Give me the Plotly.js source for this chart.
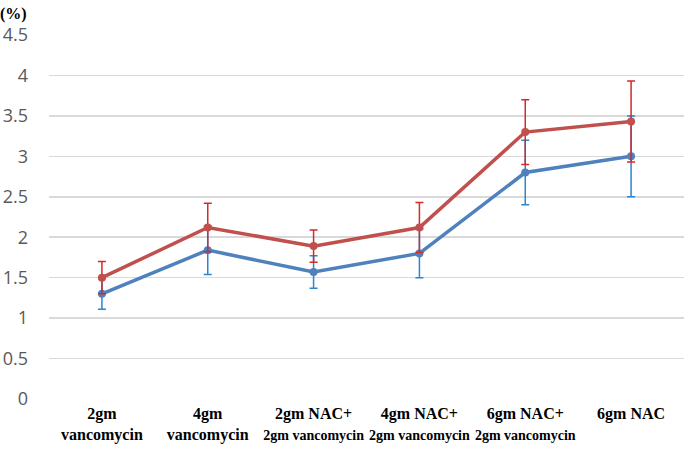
<!DOCTYPE html>
<html>
<head>
<meta charset="utf-8">
<script src="https://cdn.plot.ly/plotly-3.0.1.min.js"></script>
<style>
  html, body { margin: 0; padding: 0; background: #fff; }
  #chart { width: 685px; height: 451px; }
</style>
</head>
<body>
<div id="chart"></div>
<script>
// groups on the x axis
var groups = ["g1", "g2", "g3", "g4", "g5", "g6"];
var groupLabels = [
  "<b>2gm</b><br><b>vancomycin</b>",
  "<b>4gm</b><br><b>vancomycin</b>",
  "<b>2gm NAC+</b><br><b><span style='font-size:14px'>2gm vancomycin</span></b>",
  "<b>4gm NAC+</b><br><b><span style='font-size:14px'>2gm vancomycin</span></b>",
  "<b>6gm NAC+</b><br><b><span style='font-size:14px'>2gm vancomycin</span></b>",
  "<b>6gm NAC</b><br> "
];

// series values (%) and their error bars
var redValues = [1.50, 2.12, 1.89, 2.12, 3.30, 3.43];
var redErrors = [0.20, 0.30, 0.20, 0.31, 0.40, 0.50];
var blueValues = [1.30, 1.84, 1.57, 1.80, 2.80, 3.00];
var blueErrors = [0.19, 0.30, 0.20, 0.30, 0.40, 0.50];

var yTicks = [0, 0.5, 1, 1.5, 2, 2.5, 3, 3.5, 4, 4.5];

var data = [
  {
    x: groups, y: blueValues,
    type: "scatter", mode: "lines+markers",
    line: { color: "#4f81bd", width: 3.5 },
    marker: { color: "#4f81bd", size: 8 },
    error_y: { type: "data", array: blueErrors, visible: true,
               color: "#2a86d2", thickness: 1.5, width: 4 },
    hoverinfo: "y"
  },
  {
    x: groups, y: redValues,
    type: "scatter", mode: "lines+markers",
    line: { color: "#c0504d", width: 3.5 },
    marker: { color: "#c0504d", size: 8 },
    error_y: { type: "data", array: redErrors, visible: true,
               color: "#d42a2a", thickness: 1.5, width: 4 },
    hoverinfo: "y"
  }
];

var layout = {
  width: 685, height: 451,
  margin: { t: 35, r: 1, l: 49, b: 52 },
  showlegend: false,
  paper_bgcolor: "#fff",
  plot_bgcolor: "#fff",
  xaxis: {
    type: "category",
    range: [-0.5, 5.5],
    tickvals: groups,
    ticktext: groupLabels,
    tickangle: 0,
    showgrid: false,
    zeroline: false,
    showline: false,
    ticks: "",
    ticklabelstandoff: 3,
    tickfont: { family: "Liberation Serif, Times New Roman, serif", size: 16, color: "#000" }
  },
  yaxis: {
    range: [0, 4.5],
    tickvals: yTicks,
    ticktext: yTicks.map(String),
    showgrid: true,
    gridcolor: "#d9d9d9",
    gridwidth: 1.5,
    zeroline: false,
    showline: false,
    ticks: "",
    ticklabelstandoff: 20,
    tickfont: { family: "Open Sans, sans-serif", size: 18, color: "#595959" }
  },
  annotations: [
    {
      text: "<b>(%)</b>", xref: "paper", yref: "paper",
      x: -0.08, y: 1.057, xanchor: "left", yanchor: "middle",
      showarrow: false,
      font: { family: "Liberation Serif, Times New Roman, serif", size: 16, color: "#000" }
    }
  ]
};

Plotly.newPlot("chart", data, layout, { displayModeBar: false, staticPlot: true });
</script>
</body>
</html>
